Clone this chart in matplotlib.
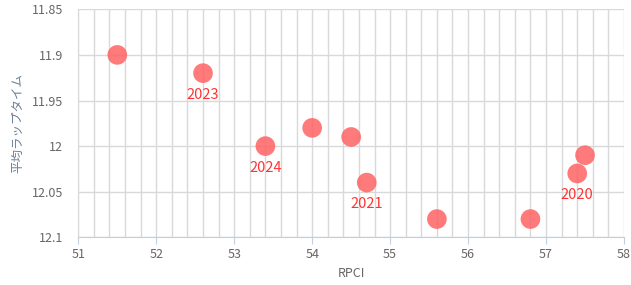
import matplotlib
matplotlib.use("Agg")
import matplotlib.pyplot as plt
from matplotlib.ticker import MultipleLocator

plt.rcParams['font.family'] = ['Noto Sans CJK JP', 'DejaVu Sans']

rpci = [51.5, 52.6, 53.4, 54.0, 54.5, 54.7, 55.6, 56.8, 57.4, 57.5]
lap = [11.90, 11.92, 12.00, 11.98, 11.99, 12.04, 12.08, 12.08, 12.03, 12.01]
labels = ["", "2023", "2024", "", "", "2021", "", "", "2020", ""]

fig = plt.figure(figsize=(6.31, 2.85), dpi=100)
ax = fig.add_axes([78.3/631, 1-237.3/285, (624-78.3)/631, (237.3-9.3)/285])

ax.scatter(rpci, lap, s=200, color=(1.0, 0.39, 0.39), alpha=0.85, edgecolors='none', zorder=3)
for x, y, t in zip(rpci, lap, labels):
    if t:
        ax.annotate(t, (x, y), xytext=(0, -10.5), textcoords='offset points',
                    ha='center', va='top', color='#ff3333', fontsize=10.5, zorder=4)

ax.set_xlim(51, 58)
ax.set_ylim(12.1, 11.85)
ax.xaxis.set_minor_locator(MultipleLocator(0.2))
ax.set_yticks([11.85, 11.9, 11.95, 12.0, 12.05, 12.1])
ax.set_yticklabels(["11.85", "11.9", "11.95", "12", "12.05", "12.1"])
ax.set_xticks([51, 52, 53, 54, 55, 56, 57, 58])
ax.set_xticklabels(["51", "52", "53", "54", "55", "56", "57", "58"])

ax.grid(True, which='major', color='#d9d9d9', linewidth=1)
ax.grid(True, which='minor', axis='x', color='#d9d9d9', linewidth=1)
ax.set_axisbelow(True)

for s in ['top', 'right']:
    ax.spines[s].set_visible(False)
ax.spines['left'].set_color('#d9d9d9')
ax.spines['bottom'].set_color('#c0d0e0')
ax.tick_params(axis='x', which='major', length=5, color='#c0d0e0', labelcolor='#666666', labelsize=9, pad=3)
ax.tick_params(axis='x', which='minor', length=0)
ax.tick_params(axis='y', length=0, labelcolor='#666666', labelsize=9, pad=11)

ax.set_xlabel("RPCI", color='#666666', fontsize=9, labelpad=4)
ax.set_ylabel("平均ラップタイム", color='#6a7f96', fontsize=9, labelpad=5)

fig.savefig("out.png", dpi=100)
